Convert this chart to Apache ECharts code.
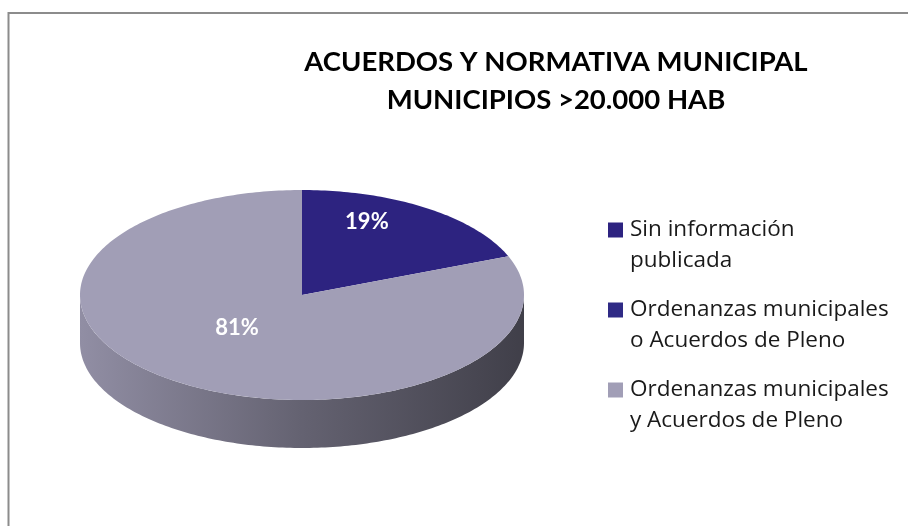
<!DOCTYPE html>
<html>
<head>
<meta charset="utf-8">
<script src="https://cdn.jsdelivr.net/npm/echarts@6/dist/echarts.min.js"></script>
<style>
  html, body { margin: 0; padding: 0; background: #fff; }
  #main { width: 908px; height: 526px; }
</style>
</head>
<body>
<div id="main"></div>
<script>
// datos del grafico
var categories = ['Sin información publicada', 'Ordenanzas municipales o Acuerdos de Pleno', 'Ordenanzas municipales y Acuerdos de Pleno'];
var legendLines = [['Sin información', 'publicada'], ['Ordenanzas municipales', 'o Acuerdos de Pleno'], ['Ordenanzas municipales', 'y Acuerdos de Pleno']];
var values = [19, 0, 81];
var colors = ['#2d2380', '#2f2a85', '#a19eb6'];
var titleText = 'ACUERDOS Y NORMATIVA MUNICIPAL\nMUNICIPIOS >20.000 HAB';

var FONT = 'Lato, "Noto Sans", sans-serif';
var LEGEND_FONT = '"Open Sans", "Noto Sans", sans-serif';

// geometria de la tarta 3D (elipse + grosor)
var PIE = { cx: 302, cy: 295, rx: 222, ry: 105, depth: 48 };

var total = values.reduce(function (a, b) { return a + b; }, 0);
var starts = [];
values.reduce(function (acc, v, i) { starts[i] = acc; return acc + v; }, 0);

function arcPts(a0, a1, dy) {
  var n = Math.max(2, Math.ceil((a1 - a0) / (Math.PI / 180)));
  var pts = [];
  for (var k = 0; k <= n; k++) {
    var a = a0 + (a1 - a0) * k / n;
    pts.push([PIE.cx + PIE.rx * Math.sin(a), PIE.cy - PIE.ry * Math.cos(a) + dy]);
  }
  return pts;
}

function shade(hex, f) {
  var c = echarts.color.parse(hex);
  return 'rgb(' + Math.round(c[0] * f) + ',' + Math.round(c[1] * f) + ',' + Math.round(c[2] * f) + ')';
}

function renderTop(params, api) {
  var v = api.value(0), s = api.value(1);
  if (!(v > 0)) return null;
  var a0 = s / total * Math.PI * 2, a1 = (s + v) / total * Math.PI * 2;
  var pts = [[PIE.cx, PIE.cy]].concat(arcPts(a0, a1, 0));
  var mid = (a0 + a1) / 2;
  return {
    type: 'group',
    children: [{
      type: 'polygon',
      shape: { points: pts },
      style: { fill: api.visual('color') }
    }, {
      type: 'text',
      style: {
        text: Math.round(v / total * 100) + '%',
        x: PIE.cx + PIE.rx * 0.52 * Math.sin(mid),
        y: PIE.cy - 20 - PIE.ry * 0.61 * Math.cos(mid),
        align: 'center',
        verticalAlign: 'middle',
        fill: '#fff',
        font: 'bold 22px ' + FONT
      }
    }]
  };
}

function renderSide(params, api) {
  var v = api.value(0), s = api.value(1);
  if (!(v > 0)) return null;
  var a0 = s / total * Math.PI * 2, a1 = (s + v) / total * Math.PI * 2;
  // solo la mitad delantera es visible
  var b0 = Math.max(a0, Math.PI / 2), b1 = Math.min(a1, Math.PI * 1.5);
  if (b1 <= b0) return null;
  var pts = arcPts(b0, b1, 0).concat(arcPts(b0, b1, PIE.depth).reverse());
  var col = colors[params.dataIndex];
  return {
    type: 'polygon',
    shape: { points: pts },
    style: {
      fill: {
        type: 'linear', x: 0, y: 0, x2: 1, y2: 0,
        colorStops: [
          { offset: 0, color: shade(col, 0.9) },
          { offset: 0.5, color: shade(col, 0.62) },
          { offset: 1, color: shade(col, 0.4) }
        ]
      }
    }
  };
}

var series = [{
  type: 'custom',
  coordinateSystem: 'none',
  silent: true,
  z: 1,
  data: values.map(function (v, i) { return [v, starts[i]]; }),
  renderItem: renderSide
}];
categories.forEach(function (name, i) {
  series.push({
    type: 'custom',
    name: name,
    coordinateSystem: 'none',
    z: 2,
    itemStyle: { color: colors[i] },
    data: [[values[i], starts[i]]],
    renderItem: renderTop
  });
});

var chart = echarts.init(document.getElementById('main'));
chart.setOption({
  animation: false,
  backgroundColor: '#fff',
  graphic: [{
    type: 'rect',
    shape: { x: 8.5, y: 13, width: 960, height: 600 },
    style: { fill: 'none', stroke: '#8c8c8c', lineWidth: 2 }
  }, {
    type: 'text',
    style: {
      text: titleText,
      x: 556, y: 43,
      align: 'center',
      verticalAlign: 'top',
      lineHeight: 38,
      fill: '#000',
      font: 'bold 27.5px ' + FONT
    }
  }],
  legend: {
    orient: 'vertical',
    left: 608,
    top: 187.5,
    padding: 0,
    itemWidth: 15,
    itemHeight: 15,
    itemGap: -5,
    icon: 'rect',
    selectedMode: false,
    data: categories,
    // linea vacia arriba para que el cuadro quede alineado con la primera linea
    formatter: function (name) {
      var l = legendLines[categories.indexOf(name)];
      return '{e| }\n{a|' + l[0] + '}\n{a|' + l[1] + '}';
    },
    textStyle: {
      fontFamily: LEGEND_FONT,
      fontSize: 22.5,
      color: '#1a1a1a',
      rich: {
        e: { fontSize: 22.5, lineHeight: 31 },
        a: { fontFamily: LEGEND_FONT, fontSize: 22.5, lineHeight: 31, color: '#1a1a1a', padding: [0, 0, 0, 2] }
      }
    }
  },
  series: series
});
</script>
</body>
</html>
